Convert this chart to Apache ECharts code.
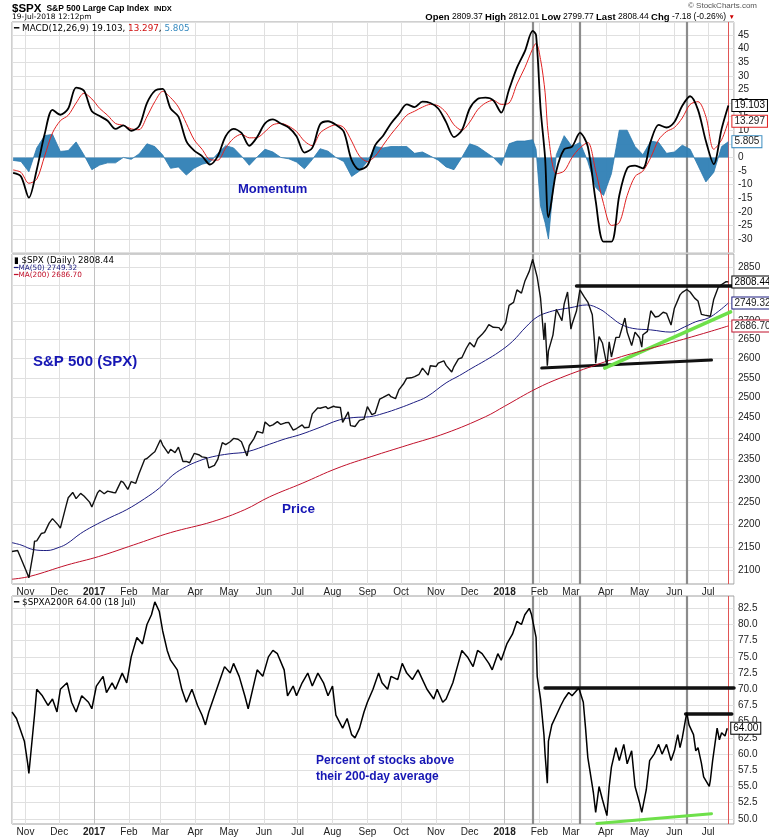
<!DOCTYPE html>
<html><head><meta charset="utf-8">
<script src="https://cdn.jsdelivr.net/npm/echarts@6/dist/echarts.min.js"></script>
<style>html,body{margin:0;padding:0;background:#fff}#c{width:769px;height:839px}</style>
</head><body><div id="c"></div>
<script>
// ---------------- DATA ----------------
const xStart = '2016-10-20', xEnd = '2018-07-24';
const monthNames = ['Jan','Feb','Mar','Apr','May','Jun','Jul','Aug','Sep','Oct','Nov','Dec'];

// MACD panel (weekly samples)
const macdDates = ['2016-10-21','2016-10-28','2016-11-04','2016-11-11','2016-11-18','2016-11-25','2016-12-02','2016-12-09','2016-12-16','2016-12-23','2016-12-30',
'2017-01-06','2017-01-13','2017-01-20','2017-01-27','2017-02-03','2017-02-10','2017-02-17','2017-02-24','2017-03-03','2017-03-10','2017-03-17','2017-03-24','2017-03-31',
'2017-04-07','2017-04-14','2017-04-21','2017-04-28','2017-05-05','2017-05-12','2017-05-19','2017-05-26','2017-06-02','2017-06-09','2017-06-16','2017-06-23','2017-06-30',
'2017-07-07','2017-07-14','2017-07-21','2017-07-28','2017-08-04','2017-08-11','2017-08-18','2017-08-25','2017-09-01','2017-09-08','2017-09-15','2017-09-22','2017-09-29',
'2017-10-06','2017-10-13','2017-10-20','2017-10-27','2017-11-03','2017-11-10','2017-11-17','2017-11-24','2017-12-01','2017-12-08','2017-12-15','2017-12-22','2017-12-29',
'2018-01-05','2018-01-12','2018-01-19','2018-01-26','2018-01-29','2018-02-02','2018-02-06','2018-02-09','2018-02-16','2018-02-23','2018-03-02','2018-03-09','2018-03-16',
'2018-03-23','2018-03-30','2018-04-06','2018-04-13','2018-04-20','2018-04-27','2018-05-04','2018-05-11','2018-05-18','2018-05-25','2018-06-01','2018-06-08','2018-06-15',
'2018-06-22','2018-06-29','2018-07-06','2018-07-13','2018-07-19'];
const macdLine = [-5.7,-7,-14.8,-4.5,8.5,17.5,15.7,18,25.7,24.5,17,
15.2,13.5,10.5,11.8,9.8,11.5,20,24.5,25.2,18,15,6,2.5,
0.5,-2.6,0.5,7.8,10.5,9,4.3,7.5,12.5,14,12.5,11,7.8,
1.8,3.5,12.2,13.3,12,9.5,-1,-4.5,-3,4.5,8,12.5,16,
19.5,18.5,20.5,20,18,13,7.5,10,18,21.5,22,21,16.5,
25,33,39,46.5,45,18,0,-22,-5,3,4,9,4,
-16,-31,-31,-14,-4,-3,-4,6,12,11,13,19,22.5,
17.5,6,-2.5,10.5,19.103];
const signalLine = [-4.6,-5.5,-9.5,-8,0.5,9,13.5,15.5,20,23.6,21.5,
18,15.5,12.5,11.8,10.5,10.2,15,20.5,24.3,22,18.5,12.5,6.5,
3,-0.8,-1,3.5,7,8.5,7.2,7.3,9.5,12,12.5,11.5,9.5,
6,4.3,9,11,12,11,6,0.5,-1.5,0.5,4.5,8.5,12,
15.5,17,18.5,19.5,19,16.5,12,10,13,17.5,20,21,19.5,
20,27,33,40,42,36,24,8,-6,-5,0,3.5,5.5,
-5,-17,-25,-24,-14,-7,-5,0,6.5,9.5,11,14.5,19.5,
20.5,15,3,6.5,13.297];
const histogram = [-1.1,-1.5,-5.3,3.5,8,8.5,2.2,2.5,5.7,0.9,-4.5,
-2.8,-2,-2,0,-0.7,1.3,5,4,0.9,-4,-3.5,-6.5,-4,
-2.5,-1.8,1.5,4.3,3.5,0.5,-2.9,0.2,3,2,0,-0.5,-1.7,
-4.2,-0.8,3.2,2.3,0,-1.5,-7,-5,-1.5,4,3.5,4,4,
4,1.5,2,0.5,-1,-3.5,-4.5,0,5,4,2,0,-3,
5,6,6,6.5,3,-18,-24,-30,1,8,4,5.5,-1.5,
-11,-14,-6,10,10,4,1,6,5.5,1.5,2,4.5,3,
-3,-9,-5.5,4,5.805];

// Price panel
const priceDates = ['2016-10-20','2016-10-25','2016-10-28','2016-11-02','2016-11-04','2016-11-08','2016-11-09','2016-11-11','2016-11-15','2016-11-18','2016-11-22','2016-11-25','2016-11-30','2016-12-02','2016-12-07','2016-12-09','2016-12-13','2016-12-16','2016-12-20','2016-12-23','2016-12-28','2016-12-30',
'2017-01-04','2017-01-06','2017-01-10','2017-01-13','2017-01-18','2017-01-20','2017-01-25','2017-01-27','2017-01-31','2017-02-03','2017-02-07','2017-02-10','2017-02-15','2017-02-17','2017-02-22','2017-02-24','2017-03-01','2017-03-03','2017-03-08','2017-03-10','2017-03-14','2017-03-17','2017-03-21','2017-03-24','2017-03-27','2017-03-31','2017-04-04','2017-04-07','2017-04-11','2017-04-13','2017-04-18','2017-04-21','2017-04-25','2017-04-28','2017-05-02','2017-05-05','2017-05-09','2017-05-12','2017-05-17','2017-05-19','2017-05-23','2017-05-26','2017-05-31','2017-06-02','2017-06-06','2017-06-09','2017-06-13','2017-06-16','2017-06-20','2017-06-23','2017-06-27','2017-06-30','2017-07-05','2017-07-07','2017-07-11','2017-07-14','2017-07-19','2017-07-21','2017-07-26','2017-07-28','2017-08-02','2017-08-04','2017-08-08','2017-08-10','2017-08-15','2017-08-17','2017-08-21','2017-08-25','2017-08-29','2017-09-01','2017-09-05','2017-09-08','2017-09-12','2017-09-15','2017-09-20','2017-09-22','2017-09-26','2017-09-29','2017-10-03','2017-10-06','2017-10-10','2017-10-13','2017-10-17','2017-10-20','2017-10-25','2017-10-27','2017-11-01','2017-11-03','2017-11-08','2017-11-10','2017-11-15','2017-11-17','2017-11-21','2017-11-24','2017-11-28','2017-12-01','2017-12-05','2017-12-08','2017-12-12','2017-12-15','2017-12-18','2017-12-22','2017-12-27','2017-12-29',
'2018-01-02','2018-01-05','2018-01-09','2018-01-12','2018-01-16','2018-01-19','2018-01-23','2018-01-26','2018-01-30','2018-02-02','2018-02-05','2018-02-06','2018-02-08','2018-02-09','2018-02-13','2018-02-16','2018-02-21','2018-02-23','2018-02-26','2018-03-01','2018-03-02','2018-03-06','2018-03-09','2018-03-13','2018-03-16','2018-03-20','2018-03-22','2018-03-23','2018-03-26','2018-03-29','2018-04-02','2018-04-04','2018-04-06','2018-04-10','2018-04-13','2018-04-18','2018-04-20','2018-04-24','2018-04-27','2018-05-01','2018-05-03','2018-05-04','2018-05-08','2018-05-11','2018-05-15','2018-05-18','2018-05-22','2018-05-25','2018-05-29','2018-06-01','2018-06-06','2018-06-08','2018-06-12','2018-06-15','2018-06-19','2018-06-22','2018-06-25','2018-06-28','2018-06-29','2018-07-03','2018-07-06','2018-07-10','2018-07-13','2018-07-17','2018-07-19'];
const priceClose = [2141,2143,2126,2097,2085,2140,2163,2164,2180,2182,2203,2213,2199,2192,2241,2260,2272,2258,2270,2264,2250,2239,
2271,2277,2269,2275,2272,2271,2298,2295,2279,2297,2293,2316,2349,2351,2363,2367,2396,2383,2363,2373,2365,2378,2344,2344,2341,2363,2360,2355,2353,2329,2335,2349,2389,2384,2391,2399,2397,2391,2357,2382,2398,2416,2412,2439,2429,2432,2440,2433,2437,2438,2419,2423,2432,2425,2426,2459,2474,2473,2477,2472,2478,2476,2475,2438,2464,2430,2428,2443,2446,2477,2457,2461,2496,2500,2508,2502,2497,2519,2534,2549,2550,2553,2559,2575,2557,2581,2579,2588,2594,2582,2565,2579,2599,2602,2627,2642,2630,2652,2664,2675,2690,2683,2682,2674,
2695,2743,2751,2786,2777,2810,2839,2873,2822,2762,2649,2695,2581,2620,2662,2732,2701,2747,2780,2678,2691,2728,2786,2766,2752,2717,2643,2588,2658,2641,2582,2644,2604,2656,2656,2708,2670,2634,2670,2655,2630,2663,2672,2728,2711,2713,2724,2721,2689,2735,2772,2779,2787,2780,2763,2755,2718,2716,2718,2713,2760,2793,2801,2809,2808.44];

const ma50Dates = ['2016-10-20','2016-10-28','2016-11-08','2016-11-20','2016-12-01','2016-12-08','2016-12-20','2016-12-31','2017-01-15','2017-01-30','2017-02-15','2017-02-28','2017-03-12','2017-03-24','2017-04-05','2017-04-16','2017-05-01','2017-05-17','2017-06-06','2017-06-20','2017-07-03','2017-07-20','2017-08-07','2017-08-20','2017-09-03','2017-09-15','2017-09-30','2017-10-12','2017-10-24','2017-11-10','2017-11-22','2017-12-03','2017-12-15','2017-12-27','2018-01-08','2018-01-20','2018-01-30','2018-02-10','2018-02-20','2018-02-28','2018-03-15','2018-03-27','2018-04-05','2018-04-14','2018-04-25','2018-05-11','2018-05-29','2018-06-10','2018-06-20','2018-07-01','2018-07-10','2018-07-19'];
const ma50 = [2160,2155,2145,2143,2150,2158,2180,2196,2215,2233,2258,2282,2312,2332,2346,2355,2362,2367,2385,2398,2408,2425,2444,2450,2452,2460,2474,2487,2502,2537,2556,2575,2595,2617,2645,2684,2711,2725,2732,2736,2744,2732,2712,2692,2680,2676,2670,2684,2698,2708,2726,2749.32];

const ma200Dates = ['2016-10-20','2016-11-05','2016-12-08','2017-01-05','2017-02-05','2017-03-10','2017-04-16','2017-05-15','2017-06-06','2017-07-05','2017-08-05','2017-09-05','2017-10-07','2017-11-10','2017-12-15','2018-01-01','2018-01-29','2018-02-20','2018-03-25','2018-04-15','2018-05-03','2018-06-01','2018-07-01','2018-07-19'];
const ma200 = [2082,2088,2112,2130,2155,2182,2206,2233,2262,2293,2328,2356,2383,2412,2452,2478,2522,2550,2585,2605,2620,2644,2670,2686.70];

const priceTicks = [2100,2150,2200,2250,2300,2350,2400,2450,2500,2550,2600,2650,2700,2750,2800,2850];

// Percent of stocks above 200-day
const breadthDates = ['2016-10-20','2016-10-24','2016-10-27','2016-10-31','2016-11-03','2016-11-04','2016-11-09','2016-11-11','2016-11-16','2016-11-21','2016-11-25','2016-11-29','2016-12-02','2016-12-08','2016-12-12','2016-12-16','2016-12-21','2016-12-27','2016-12-30',
'2017-01-03','2017-01-09','2017-01-12','2017-01-17','2017-01-20','2017-01-26','2017-01-30','2017-02-03','2017-02-08','2017-02-13','2017-02-17','2017-02-21','2017-02-24','2017-02-28','2017-03-03','2017-03-07','2017-03-10','2017-03-16','2017-03-20','2017-03-24','2017-03-29','2017-04-03','2017-04-07','2017-04-10','2017-04-13','2017-04-18','2017-04-24','2017-04-27','2017-05-02','2017-05-05','2017-05-10','2017-05-15','2017-05-18','2017-05-22','2017-05-26','2017-05-31','2017-06-05','2017-06-09','2017-06-13','2017-06-19','2017-06-22','2017-06-27','2017-06-30','2017-07-05','2017-07-10','2017-07-14','2017-07-19','2017-07-24','2017-07-28','2017-08-01','2017-08-04','2017-08-10','2017-08-14','2017-08-18','2017-08-21','2017-08-25','2017-08-29','2017-09-01','2017-09-06','2017-09-11','2017-09-14','2017-09-19','2017-09-22','2017-09-28','2017-10-02','2017-10-06','2017-10-11','2017-10-16','2017-10-20','2017-10-24','2017-10-30','2017-11-02','2017-11-07','2017-11-10','2017-11-16','2017-11-20','2017-11-24','2017-11-29','2017-12-04','2017-12-08','2017-12-12','2017-12-18','2017-12-21','2017-12-26','2017-12-29',
'2018-01-03','2018-01-08','2018-01-12','2018-01-16','2018-01-19','2018-01-23','2018-01-25','2018-01-29','2018-01-30','2018-02-02','2018-02-05','2018-02-06','2018-02-08','2018-02-09','2018-02-12','2018-02-16','2018-02-20','2018-02-23','2018-02-27','2018-03-02','2018-03-08','2018-03-12','2018-03-14','2018-03-16','2018-03-21','2018-03-23','2018-03-26','2018-03-29','2018-04-02','2018-04-04','2018-04-06','2018-04-10','2018-04-13','2018-04-17','2018-04-20','2018-04-24','2018-04-27','2018-05-01','2018-05-03','2018-05-07','2018-05-10','2018-05-14','2018-05-18','2018-05-21','2018-05-25','2018-05-29','2018-06-01','2018-06-04','2018-06-06','2018-06-08','2018-06-12','2018-06-14','2018-06-18','2018-06-20','2018-06-22','2018-06-25','2018-06-27','2018-07-02','2018-07-03','2018-07-05','2018-07-09','2018-07-11','2018-07-13','2018-07-16','2018-07-18'];
const breadth = [66.5,65.5,64,62,58.5,57,66,70,69,67.5,68.5,66.5,70,71,68,66.5,69,68,67,
70.5,72,69.5,71,70,72.5,71,75,78,77,80,81.5,83.5,82,79,76,74.5,73,70,68,70,67.5,66,64.5,66.5,69,72,73.5,72.5,74,72,69,67,70,73,72,75,76,75.5,73,69,70.5,69,71,72.5,70.5,72.5,71,69,70.5,66,64,65.5,63,62.5,64,66.5,68,70,72.5,71,70,72,71.5,74,72.5,71.5,73,71.5,70,68.5,70,68,68.5,71,73.5,76,75,73.5,76,75.5,74,73,75.5,74.5,
77,78.5,80.5,80,81.5,82.5,81.5,78,72,68.5,63,60,55.5,62,64.5,66,67.5,68.5,69.5,69,70.2,68,64,59.5,54,51,55,53,50.5,55,58,61,59,61.5,58.5,60.5,55,52.5,51,54.5,59,60,61.5,60,61.5,59,60.5,63,61,62.5,66.4,64.5,63,60.5,61,58.6,56.5,55,56,59,64,62.2,63.3,62.8,64];
const breadthTicks = [50,52.5,55,57.5,60,62.5,65,67.5,70,72.5,75,77.5,80,82.5];

// Hand-drawn annotations
const priceResistance = [['2018-03-06',2798],['2018-07-24',2798]];
const priceSupport = [['2018-02-03',2575],['2018-07-04',2596]];
const priceTrend = [['2018-03-31',2575],['2018-07-21',2725]];
const breadthRes1 = [['2018-02-06',70.3],['2018-07-24',70.3]];
const breadthRes2 = [['2018-06-11',66.2],['2018-07-22',66.2]];
const breadthTrend = [['2018-03-24',49.3],['2018-07-04',50.8]];
const markerDates = ['2018-01-26','2018-03-09','2018-06-12'];
const lastDate = '2018-07-19';
const yearStarts = ['2017-01-01','2018-01-01'];

// ---------------- CHART ----------------
const FONT = 'Liberation Sans, Arial, sans-serif';
const VFONT = 'DejaVu Sans, Verdana, sans-serif';
const BLUE = '#1616b4';
const zip = (d, v) => d.map((x, i) => [x, v[i]]);
const T = s => echarts.time.parse(s).getTime();

function xAxisCfg(gi, showLabel) {
  return {
    type: 'time', gridIndex: gi, min: xStart, max: xEnd,
    splitNumber: 21, minInterval: 28 * 864e5, maxInterval: 31 * 864e5,
    axisLine: {show: false}, axisTick: {show: false},
    splitLine: {show: true, lineStyle: {color: '#e0e0e0', width: 1}},
    axisLabel: {
      show: showLabel, fontFamily: FONT, fontSize: 10, color: '#222', margin: 3,
      hideOverlap: false,
      formatter: v => { const d = new Date(v); return d.getMonth() === 0 ? '{b|' + d.getFullYear() + '}' : monthNames[d.getMonth()]; },
      rich: {b: {fontWeight: 'bold', fontSize: 10, fontFamily: FONT, color: '#222'}}
    }
  };
}
function verticals() {
  const arr = yearStarts.map(d => ({xAxis: T(d), lineStyle: {color: '#c2c2c2', width: 1, type: 'solid'}, label: {show: false}}));
  markerDates.forEach(d => arr.push({xAxis: T(d), lineStyle: {color: '#8c8c8c', width: 2.2, type: 'solid'}, label: {show: false}}));
  arr.push({xAxis: T(lastDate), lineStyle: {color: '#e05555', width: 1, type: 'solid'}, label: {show: false}});
  return arr;
}
function seg(pts, color, width) {
  return [{coord: [T(pts[0][0]), pts[0][1]], lineStyle: {color: color, width: width, type: 'solid', cap: 'round'}, label: {show: false}},
          {coord: [T(pts[1][0]), pts[1][1]]}];
}
function tag(border, color, fmt) {
  return {show: true, fontFamily: FONT, fontSize: 10, color: color || '#000', backgroundColor: '#fff',
    borderColor: border, borderWidth: 1, padding: [1, 2, 0, 2], distance: 4, formatter: fmt};
}
const fmtRaw = p => String(p.value[1]);
const fmt2 = p => p.value[1].toFixed(2);

const option = {
  animation: false,
  backgroundColor: '#fff',
  title: [
    {left: 12, top: 0, padding: 0, text: '{a|$SPX} {b|S&P 500 Large Cap Index} {c|INDX}',
      textStyle: {rich: {a: {fontSize: 11.5, fontWeight: 'bold', fontFamily: FONT, color: '#000', lineHeight: 13},
        b: {fontSize: 8.5, fontFamily: FONT, color: '#000', lineHeight: 13}, c: {fontSize: 7.5, fontFamily: FONT, color: '#000', lineHeight: 13}}}},
    {left: 12, top: 13, padding: 0, text: '19-Jul-2018 12:12pm', textStyle: {fontSize: 7.5, fontFamily: VFONT, fontWeight: 'normal', color: '#000'}},
    {right: 12, top: 2, padding: 0, text: '© StockCharts.com', textStyle: {fontSize: 8, fontFamily: FONT, fontWeight: 'normal', color: '#555'}},
    {right: 34, top: 12, padding: 0,
      text: '{b|Open} 2809.37 {b|High} 2812.01 {b|Low} 2799.77 {b|Last} 2808.44 {b|Chg} -7.18 (-0.26%) {r|▼}',
      textStyle: {fontSize: 8.5, fontFamily: FONT, fontWeight: 'normal', color: '#000',
        rich: {b: {fontSize: 9.5, fontWeight: 'bold', fontFamily: FONT, color: '#000'}, r: {fontSize: 6.5, color: '#c00', fontFamily: FONT}}}},
    {left: 14, top: 24, padding: 0, text: '{k|━} MACD(12,26,9) 19.103, {r|13.297}, {s|5.805}',
      textStyle: {fontSize: 8.8, fontFamily: VFONT, fontWeight: 'normal', color: '#000',
        rich: {k: {fontSize: 8.8, color: '#000', fontFamily: VFONT}, r: {fontSize: 8.8, color: '#d01010', fontFamily: VFONT}, s: {fontSize: 8.8, color: '#3a8cc0', fontFamily: VFONT}}}},
    {left: 14, top: 256, padding: 0, text: '▮ $SPX (Daily) 2808.44', textStyle: {fontSize: 8.7, fontFamily: VFONT, fontWeight: 'normal', color: '#000'}},
    {left: 14, top: 265, padding: 0, text: '━MA(50) 2749.32', textStyle: {fontSize: 7.3, fontFamily: VFONT, fontWeight: 'normal', color: '#1c1c80'}},
    {left: 14, top: 272, padding: 0, text: '━MA(200) 2686.70', textStyle: {fontSize: 7.3, fontFamily: VFONT, fontWeight: 'normal', color: '#c0102a'}},
    {left: 14, top: 598, padding: 0, text: '━ $SPXA200R 64.00 (18 Jul)', textStyle: {fontSize: 8.8, fontFamily: VFONT, fontWeight: 'normal', color: '#000'}},
    {left: 238, top: 183, padding: 0, text: 'Momentum', textStyle: {fontSize: 13, fontFamily: FONT, fontWeight: 'bold', color: BLUE}},
    {left: 33, top: 354, padding: 0, text: 'S&P 500 (SPX)', textStyle: {fontSize: 15, fontFamily: FONT, fontWeight: 'bold', color: BLUE}},
    {left: 282, top: 502, padding: 0, text: 'Price', textStyle: {fontSize: 13.5, fontFamily: FONT, fontWeight: 'bold', color: BLUE}},
    {left: 316, top: 753, padding: 0, text: 'Percent of stocks above\ntheir 200-day average',
      textStyle: {fontSize: 12, fontFamily: FONT, fontWeight: 'bold', color: BLUE, lineHeight: 16}}
  ],
  grid: [
    {left: 12, right: 35, top: 22, height: 230.6, show: true, borderColor: '#a0a0a0', borderWidth: 1},
    {left: 12, right: 35, top: 254, height: 330, show: true, borderColor: '#a0a0a0', borderWidth: 1},
    {left: 12, right: 35, top: 596, height: 228, show: true, borderColor: '#a0a0a0', borderWidth: 1}
  ],
  xAxis: [xAxisCfg(0, false), xAxisCfg(1, true), xAxisCfg(2, true)],
  yAxis: [
    {type: 'value', gridIndex: 0, position: 'right', min: -35, max: 49.8, interval: 5,
      axisLine: {show: false}, axisTick: {show: false},
      splitLine: {lineStyle: {color: '#e0e0e0'}},
      axisLabel: {fontFamily: FONT, fontSize: 10, color: '#222', margin: 4,
        formatter: v => (v > 45.01 || v < -30.01) ? '' : String(v)}},
    {type: 'log', logBase: 10, gridIndex: 1, position: 'right', min: 2072, max: 2888.4,
      axisLine: {show: false}, axisTick: {show: false}, splitLine: {show: false}, axisLabel: {show: false}},
    {type: 'value', gridIndex: 2, position: 'right', min: 49.21, max: 84.4,
      axisLine: {show: false}, axisTick: {show: false}, splitLine: {show: false}, axisLabel: {show: false}}
  ],
  series: [
    // ---- MACD panel
    {type: 'line', xAxisIndex: 0, yAxisIndex: 0, data: [], z: 1, zlevel: 0, silent: true,
      markLine: {silent: true, symbol: ['none', 'none'], animation: false, data: verticals()}},
    {name: 'hist', type: 'line', xAxisIndex: 0, yAxisIndex: 0, z: 3, zlevel: 1, data: zip(macdDates, histogram),
      showSymbol: false, symbol: 'none', lineStyle: {color: '#2b78ad', width: 0.8},
      areaStyle: {color: '#2f7fb5', opacity: 0.95},
      endLabel: tag('#3a8cc0', '#222', fmtRaw)},
    {name: 'signal', type: 'line', xAxisIndex: 0, yAxisIndex: 0, z: 4, zlevel: 1, data: zip(macdDates, signalLine),
      showSymbol: false, symbol: 'none', smooth: 0.3, lineStyle: {color: '#e02020', width: 1},
      endLabel: tag('#e02020', '#222', fmtRaw)},
    {name: 'macd', type: 'line', xAxisIndex: 0, yAxisIndex: 0, z: 5, zlevel: 1, data: zip(macdDates, macdLine),
      showSymbol: false, symbol: 'none', smooth: 0.3, lineStyle: {color: '#000', width: 1.8},
      endLabel: tag('#000', '#000', fmtRaw)},
    // ---- Price panel
    {type: 'line', xAxisIndex: 1, yAxisIndex: 1, data: [], z: 1, zlevel: 0, silent: true,
      markLine: {silent: true, symbol: ['none', 'none'], animation: false,
        data: priceTicks.map(v => ({yAxis: v, lineStyle: {color: '#e0e0e0', width: 1, type: 'solid'},
          label: {show: true, position: 'end', distance: 4, fontFamily: FONT, fontSize: 10, color: '#222', formatter: String(v)}}))
          .concat(verticals())}},
    {type: 'line', xAxisIndex: 1, yAxisIndex: 1, data: [], z: 2, zlevel: 1, silent: true,
      markLine: {silent: true, symbol: ['none', 'none'], animation: false,
        data: [seg(priceResistance, '#111', 3.5), seg(priceSupport, '#111', 3), seg(priceTrend, '#6ee04a', 3.5)]}},
    {name: 'ma200', type: 'line', xAxisIndex: 1, yAxisIndex: 1, z: 3, zlevel: 1, data: zip(ma200Dates, ma200),
      showSymbol: false, symbol: 'none', smooth: 0.4, lineStyle: {color: '#c0102a', width: 1},
      endLabel: tag('#c0102a', '#222', fmt2)},
    {name: 'ma50', type: 'line', xAxisIndex: 1, yAxisIndex: 1, z: 4, zlevel: 1, data: zip(ma50Dates, ma50),
      showSymbol: false, symbol: 'none', smooth: 0.4, lineStyle: {color: '#1c1c80', width: 1},
      endLabel: tag('#1c1c80', '#222', fmt2)},
    {name: 'spx', type: 'line', xAxisIndex: 1, yAxisIndex: 1, z: 5, zlevel: 1, data: zip(priceDates, priceClose),
      showSymbol: false, symbol: 'none', lineStyle: {color: '#111', width: 1.4},
      endLabel: tag('#000', '#000', fmt2)},
    // ---- Breadth panel
    {type: 'line', xAxisIndex: 2, yAxisIndex: 2, data: [], z: 1, zlevel: 0, silent: true,
      markLine: {silent: true, symbol: ['none', 'none'], animation: false,
        data: breadthTicks.map(v => ({yAxis: v, lineStyle: {color: '#e0e0e0', width: 1, type: 'solid'},
          label: {show: true, position: 'end', distance: 4, fontFamily: FONT, fontSize: 10, color: '#222', formatter: v.toFixed(1)}}))
          .concat(verticals())}},
    {type: 'line', xAxisIndex: 2, yAxisIndex: 2, data: [], z: 2, zlevel: 1, silent: true,
      markLine: {silent: true, symbol: ['none', 'none'], animation: false,
        data: [seg(breadthRes1, '#111', 3.5), seg(breadthRes2, '#111', 3.5), seg(breadthTrend, '#6ee04a', 3)]}},
    {name: 'breadth', type: 'line', xAxisIndex: 2, yAxisIndex: 2, z: 5, zlevel: 1, data: zip(breadthDates, breadth),
      showSymbol: false, symbol: 'none', lineStyle: {color: '#000', width: 1.5},
      endLabel: tag('#000', '#000', fmt2)}
  ]
};

const chart = echarts.init(document.getElementById('c'), null, {renderer: 'canvas'});
chart.setOption(option);
</script>
</body></html>
